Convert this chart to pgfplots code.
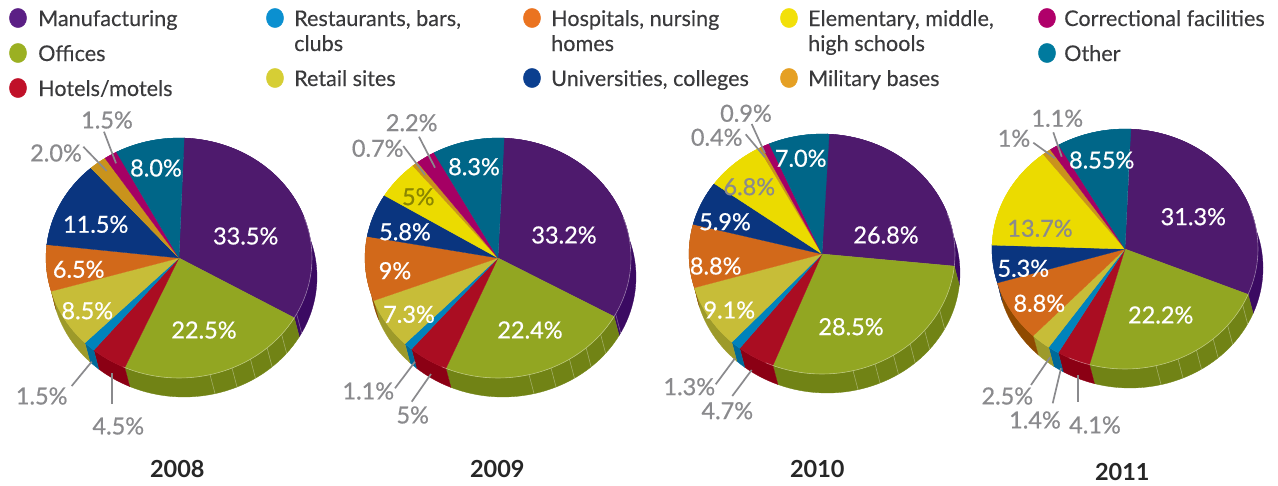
\documentclass[border=0pt]{standalone}
\usepackage{fontspec}
\setmainfont{Lato}
\newfontfamily\legfont[FakeBold=0.2]{Lato}
\newfontfamily\valfont[FakeBold=0.6]{Lato}
\usepackage{pgfplots}
\usepackage{pgfplotstable}
\pgfplotsset{compat=1.18}

% slice colours: c- top face, s- side wall, l- legend dot
\definecolor{c-mfg}{HTML}{4E1A6D}\definecolor{s-mfg}{HTML}{3B0A62}\definecolor{l-mfg}{HTML}{5B1F85}
\definecolor{c-off}{HTML}{92A622}\definecolor{s-off}{HTML}{718315}\definecolor{l-off}{HTML}{9BB022}
\definecolor{c-hot}{HTML}{AA0D22}\definecolor{s-hot}{HTML}{8B0014}\definecolor{l-hot}{HTML}{C01129}
\definecolor{c-res}{HTML}{0083BC}\definecolor{s-res}{HTML}{006A9A}\definecolor{l-res}{HTML}{0B90D0}
\definecolor{c-ret}{HTML}{C7BD38}\definecolor{s-ret}{HTML}{9D9A2A}\definecolor{l-ret}{HTML}{D6CE35}
\definecolor{c-hos}{HTML}{D2691A}\definecolor{s-hos}{HTML}{8F4A00}\definecolor{l-hos}{HTML}{EA7320}
\definecolor{c-uni}{HTML}{0A357F}\definecolor{s-uni}{HTML}{0A357F}\definecolor{l-uni}{HTML}{0B3F8F}
\definecolor{c-ele}{HTML}{EBDB00}\definecolor{s-ele}{HTML}{EBDB00}\definecolor{l-ele}{HTML}{F2E00A}
\definecolor{c-mil}{HTML}{C9931C}\definecolor{s-mil}{HTML}{C9931C}\definecolor{l-mil}{HTML}{E5A024}
\definecolor{c-cor}{HTML}{A50064}\definecolor{s-cor}{HTML}{A50064}\definecolor{l-cor}{HTML}{B0006A}
\definecolor{c-oth}{HTML}{006688}\definecolor{s-oth}{HTML}{006688}\definecolor{l-oth}{HTML}{007A9E}
\definecolor{leadgray}{HTML}{8A8A8D}
\definecolor{txt}{HTML}{3A3A3C}
\definecolor{olivelab}{HTML}{8A8500}

\pgfplotstableread{
cat share
mfg 33.5
off 22.5
hot 4.5
res 1.5
ret 8.5
hos 6.5
uni 11.5
ele 0
mil 2.0
cor 1.5
oth 8.0
}\tabA
\pgfplotstableread{
cat share
mfg 33.2
off 22.4
hot 5
res 1.1
ret 7.3
hos 9
uni 5.8
ele 5
mil 0.7
cor 2.2
oth 8.3
}\tabB
\pgfplotstableread{
cat share
mfg 26.8
off 28.5
hot 4.7
res 1.3
ret 9.1
hos 8.8
uni 5.9
ele 6.8
mil 0.4
cor 0.9
oth 7.0
}\tabC
\pgfplotstableread{
cat share
mfg 31.3
off 22.2
hot 4.1
res 1.4
ret 2.5
hos 8.8
uni 5.3
ele 13.7
mil 1
cor 1.1
oth 8.55
}\tabD

\def\rx{133}\def\ry{120}\def\wallx{5}\def\wally{19}

% append an elliptical arc to \pts (centre x, centre y, from angle, to angle)
\newcommand\arcpts[4]{%
  \pgfmathtruncatemacro\nst{max(2,ceil(abs(#4-(#3))/2.5))}%
  \foreach \stp in {0,...,\nst}{%
    \pgfmathsetmacro\aa{#3+(#4-(#3))*\stp/\nst}%
    \pgfmathsetmacro\ptx{#1+\rx*cos(\aa)}%
    \pgfmathsetmacro\pty{#2-\ry*sin(\aa)}%
    \xdef\pts{\pts (\ptx,\pty)}%
  }}

% the picture's perspective bends the slice angles a little
\newcommand\persp[2]{\pgfmathsetmacro#1{#2+2.4+1.7*cos(2*(#2+20))}}

% slice limits from the running total: start angle
\newcommand\slicelimits[1]{%
  \pgfmathsetmacro\rawA{#1-1-\cum*3.6}%
  \pgfmathsetmacro\rawB{\rawA-\shr*3.6}%
  \persp\angA\rawA\persp\angB\rawB
  \pgfmathsetmacro\cumn{\cum+\shr}\xdef\cum{\cumn}}

% pie: table, centre x, centre y, start angle
\newcommand\drawpie[4]{%
  \pgfmathsetmacro\wx{#2+\wallx}\pgfmathsetmacro\wy{#3+\wally}%
  % side walls first
  \xdef\cum{0}%
  \foreach \row in {0,...,10}{%
    \pgfplotstablegetelem{\row}{cat}\of#1\edef\cat{\pgfplotsretval}%
    \pgfplotstablegetelem{\row}{share}\of#1\edef\shr{\pgfplotsretval}%
    \slicelimits{#4}%
    \gdef\pts{}%
    \arcpts{#2}{#3}{\angA}{\angB}%
    \arcpts{\wx}{\wy}{\angB}{\angA}%
    \edef\temp{\noexpand\addplot[fill=s-\cat,draw=s-\cat,line width=0.3pt] coordinates {\pts} -- cycle;}%
    \temp
  }%
  % facet lines on the wall
  \foreach \tk in {-76.5,-66.5,-57.5,-48.5,-39.5,-27.8}{%
    \gdef\pts{}%
    \pgfmathsetmacro\ptx{#2+\rx*cos(\tk)}\pgfmathsetmacro\pty{#3-\ry*sin(\tk)}\xdef\pts{(\ptx,\pty)}%
    \pgfmathsetmacro\ptx{\wx+\rx*cos(\tk)}\pgfmathsetmacro\pty{\wy-\ry*sin(\tk)}\xdef\pts{\pts (\ptx,\pty)}%
    \edef\temp{\noexpand\addplot[draw=white,opacity=0.35,line width=0.6pt] coordinates {\pts};}%
    \temp
  }%
  % top faces
  \xdef\cum{0}%
  \foreach \row in {0,...,10}{%
    \pgfplotstablegetelem{\row}{cat}\of#1\edef\cat{\pgfplotsretval}%
    \pgfplotstablegetelem{\row}{share}\of#1\edef\shr{\pgfplotsretval}%
    \slicelimits{#4}%
    \xdef\pts{(#2,#3)}%
    \arcpts{#2}{#3}{\angA}{\angB}%
    \edef\temp{\noexpand\addplot[fill=c-\cat,draw=c-\cat,line width=0.3pt,line join=round] coordinates {\pts} -- cycle;}%
    \temp
  }%
  % light rim along the wall
  \gdef\pts{}%
  \arcpts{#2}{#3}{20}{-115}%
  \edef\temp{\noexpand\addplot[draw=white,opacity=0.4,line width=0.6pt] coordinates {\pts};}%
  \temp
}

\newcommand\legdot[3]{\addplot[only marks,mark=*,mark size=8.6pt,mark options={fill=l-#3,draw=l-#3,yscale=1.12}] coordinates {(#1,#2)};}
\newcommand\legtxt[3]{\node[anchor=base west,inner sep=0pt,text=txt,font=\legfont\fontsize{21.6}{25}\selectfont] at (#1,#2) {#3};}
\newcommand\wlab[3]{\node[text=white,inner sep=0pt,font=\valfont\fontsize{23.5}{27}\selectfont] at (#1,#2) {#3\%};}
\newcommand\glab[3]{\node[text=leadgray,inner sep=0pt,font=\valfont\fontsize{23.5}{27}\selectfont] at (#1,#2) {#3\%};}
\newcommand\lead[4]{\addplot[draw=leadgray,line width=1.7pt] coordinates {(#1,#2) (#3,#4)};}
\newcommand\yearlab[3]{\node[text=black!85,inner sep=0pt,font=\fontsize{23.5}{27}\selectfont\bfseries] at (#1,#2) {#3};}

\begin{document}
\begin{tikzpicture}
\path[use as bounding box] (0,0) rectangle (1278pt,485pt);
\begin{axis}[
  at={(0,0)},anchor=south west,
  scale only axis,width=1278pt,height=485pt,
  xmin=0,xmax=1278,ymin=0,ymax=485,y dir=reverse,
  hide axis,clip=false,
]
% legend
\legdot{18}{18}{mfg}\legdot{18}{53}{off}\legdot{18}{88}{hot}
\legdot{275}{18}{res}\legdot{275}{78}{ret}
\legdot{532}{18}{hos}\legdot{532}{78}{uni}
\legdot{789}{18}{ele}\legdot{789}{78}{mil}
\legdot{1047}{18}{cor}\legdot{1047}{53}{oth}
\legtxt{38}{26}{Manufacturing}
\legtxt{38}{61}{Offices}
\legtxt{38}{96}{Hotels/motels}
\legtxt{294}{26}{Restaurants, bars,}
\legtxt{294}{51}{clubs}
\legtxt{294}{86}{Retail sites}
\legtxt{551}{26}{Hospitals, nursing}
\legtxt{551}{51}{homes}
\legtxt{551}{86}{Universities, colleges}
\legtxt{808}{26}{Elementary, middle,}
\legtxt{808}{51}{high schools}
\legtxt{808}{86}{Military bases}
\legtxt{1064}{26}{Correctional facilities}
\legtxt{1064}{61}{Other}

% pies
\drawpie{\tabA}{179}{258}{87.8}
\drawpie{\tabB}{498}{258}{87.4}
\drawpie{\tabC}{822}{254}{87.7}
\drawpie{\tabD}{1125}{249}{87.4}

% 2008
\wlab{245.7}{236}{33.5}\wlab{204}{330}{22.5}\wlab{156}{168}{8.0}
\wlab{95.7}{224.3}{11.5}\wlab{78.7}{269.3}{6.5}\wlab{87.3}{310.7}{8.5}
\glab{107}{120}{1.5}\glab{56}{153}{2.0}\glab{41.7}{396}{1.5}\glab{118.3}{426}{4.5}
\lead{104}{131.7}{116}{163.3}\lead{83.3}{146.7}{106.7}{171}
\lead{71.7}{386}{91.7}{361.7}\lead{112.3}{404}{112.3}{373.3}
\yearlab{177.3}{469}{2008}
% 2009
\wlab{564}{235}{33.2}\wlab{530}{330}{22.4}\wlab{474}{166.7}{8.3}
\wlab{405}{231.7}{5.8}\wlab{395}{270.7}{9}\wlab{409}{314.3}{7.3}
\node[text=olivelab,inner sep=0pt,font=\valfont\fontsize{23.5}{27}\selectfont] at (418.3,196.7) {5\%};
\glab{411.7}{122.7}{2.2}\glab{377.7}{148.3}{0.7}\glab{368.3}{391}{1.1}\glab{412.7}{415}{5}
\lead{419}{136.7}{435}{167.7}\lead{403.3}{146}{425}{175}
\lead{395}{388.3}{415}{361.7}\lead{411.7}{401.7}{431}{374}
\yearlab{497.3}{469}{2009}
% 2010
\wlab{886}{235}{26.8}\wlab{851}{326.7}{28.5}\wlab{800.7}{158.3}{7.0}
\wlab{725}{221.7}{5.9}\wlab{715.7}{266}{8.8}\wlab{729.3}{310}{9.1}
\glab{749.3}{186.7}{6.8}
\glab{746}{113.3}{0.9}\glab{716.7}{137.3}{0.4}\glab{689.3}{386.7}{1.3}\glab{727.3}{410.7}{4.7}
\lead{751.7}{124}{765}{153.3}\lead{745.7}{134.3}{765}{157.3}
\lead{715.7}{384.3}{735}{358.3}\lead{732.3}{396}{751.7}{370}
\yearlab{817.3}{469}{2010}
% 2011
\wlab{1193.3}{216.7}{31.3}\wlab{1160.7}{315}{22.2}\wlab{1101.7}{160}{8.55}
\wlab{1023.3}{268.3}{5.3}\wlab{1039.3}{303.3}{8.8}
\glab{1040}{228.3}{13.7}
\glab{1057.3}{118.3}{1.1}\glab{1014}{138.3}{1}\glab{1007.3}{396}{2.5}\glab{1035}{420}{1.4}\glab{1095}{425}{4.1}
\lead{1053.3}{132.3}{1061.7}{156.7}\lead{1033.3}{142.7}{1055}{158.3}
\lead{1031}{385}{1050}{357.3}\lead{1052.7}{403.3}{1061}{368.3}\lead{1078.3}{401.7}{1078.3}{375}
\yearlab{1122.3}{471.7}{2011}
\end{axis}
\end{tikzpicture}
\end{document}
